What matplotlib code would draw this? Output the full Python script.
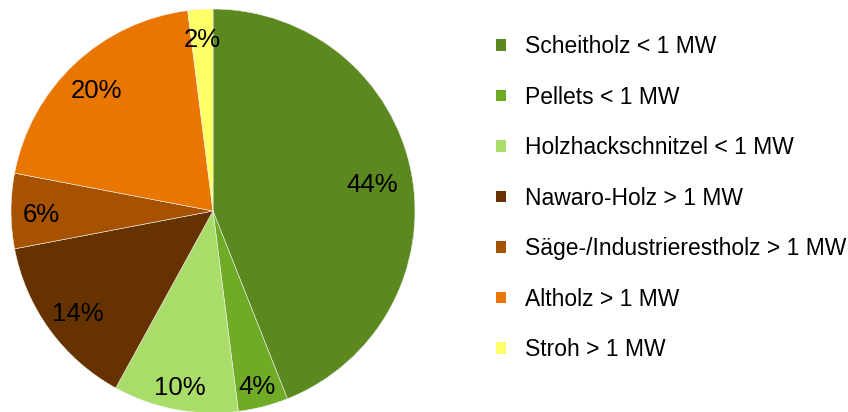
import matplotlib
matplotlib.use('Agg')
import matplotlib.pyplot as plt
from matplotlib.patches import Patch
import numpy as np

plt.rcParams['font.family'] = ['Liberation Sans', 'DejaVu Sans']

labels = ['Scheitholz < 1 MW', 'Pellets < 1 MW', 'Holzhackschnitzel < 1 MW',
          'Nawaro-Holz > 1 MW', 'Säge-/Industrierestholz > 1 MW',
          'Altholz > 1 MW', 'Stroh > 1 MW']
shares = [44, 4, 10, 14, 6, 20, 2]
colors = ['#5b891f', '#70ab28', '#a9dc68', '#663300', '#a65200', '#e97600', '#ffff66']
# label distance from centre, as excel placed them
label_dist = [0.80, 0.88, 0.87, 0.83, 0.85, 0.84, 0.87]

fig = plt.figure(figsize=(8.48, 4.12), dpi=100)
ax = fig.add_axes([0.0130, -0.0024, 0.4764, 0.9806])

wedges, _, autotexts = ax.pie(shares, colors=colors, startangle=90, counterclock=False,
                              autopct='%d%%', pctdistance=0.84,
                              wedgeprops=dict(edgecolor='#f0f0f0', linewidth=0.4),
                              textprops=dict(fontsize=18.5, color='black'))
for w, t, d in zip(wedges, autotexts, label_dist):
    ang = np.deg2rad((w.theta1 + w.theta2) / 2)
    t.set_position((d * np.cos(ang), d * np.sin(ang) - 0.02))
ax.set_xlim(-1, 1)
ax.set_ylim(-1, 1)
ax.set_aspect('equal')

handles = [Patch(facecolor=c, edgecolor='none') for c in colors]
fig.legend(handles, labels, loc='upper left', bbox_to_anchor=(0.574, 0.937),
           frameon=False, fontsize=16.5, handlelength=0.42, handleheight=0.42,
           handletextpad=0.85, labelspacing=1.2, borderaxespad=0)

fig.savefig('out.png', dpi=100)
